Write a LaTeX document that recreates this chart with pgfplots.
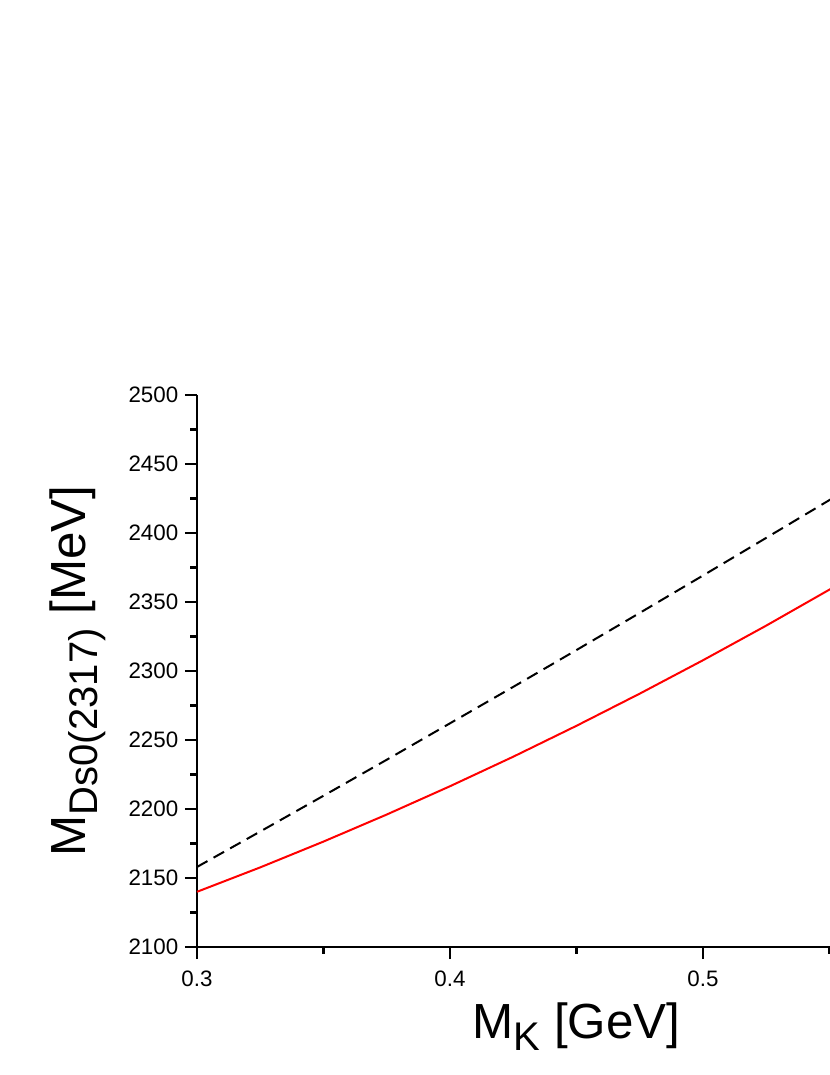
\documentclass[border=0pt]{standalone}
\usepackage{pgfplots}
\pgfplotsset{compat=1.18}
\usepackage{fontspec}
\setmainfont{Liberation Sans}

% curves, M_K in GeV, mass in MeV
\pgfplotstableread{
mk    m
0.300 2140.0
0.325 2157.7
0.350 2176.4
0.375 2196.0
0.400 2216.5
0.425 2237.9
0.450 2260.3
0.475 2283.6
0.500 2307.8
0.525 2332.9
0.550 2359.0
0.575 2386.0
0.600 2413.9
}\redcurve
\pgfplotstableread{
mk    m
0.300 2158.0
0.325 2183.7
0.350 2209.6
0.375 2235.7
0.400 2262.1
0.425 2288.5
0.450 2315.2
0.475 2342.1
0.500 2369.2
0.525 2396.5
0.550 2423.9
0.575 2451.6
0.600 2479.5
}\dashcurve

\begin{document}
\begin{tikzpicture}
  \useasboundingbox (0,0) rectangle (249pt,322.5pt);
  \clip (0,0) rectangle (249pt,322.5pt);
  \begin{axis}[
    at={(59.1pt,38.4pt)}, anchor=south west,
    scale only axis,
    width=227.7pt, height=165.6pt,
    xmin=0.3, xmax=0.6, ymin=2100, ymax=2500,
    axis x line*=bottom, axis y line*=left,
    axis line style={line width=0.7pt},
    xtick={0.3,0.4,0.5,0.6}, minor xtick={0.35,0.45,0.55},
    ytick={2100,2150,...,2500}, minor ytick={2125,2175,...,2475},
    tick align=outside,
    major tick length=3.6pt, minor tick length=2pt,
    every tick/.style={line width=0.7pt, black},
    tick label style={font=\fontsize{6.7}{7.5}\selectfont},
    yticklabel style={xshift=1.5pt},
    /pgf/number format/assume math mode=true,
    /pgf/number format/1000 sep={},
    xticklabel style={/pgf/number format/fixed, /pgf/number format/precision=1, /pgf/number format/fixed zerofill},
    xlabel={M\raisebox{-0.45ex}{\fontsize{12}{12}\selectfont K} [GeV]},
    ylabel={M\raisebox{-0.45ex}{\fontsize{12}{12}\selectfont Ds0(2317)} [MeV]},
    label style={font=\fontsize{14.8}{17}\selectfont},
    xlabel style={yshift=2pt},
    ylabel style={yshift=0pt},
    clip=false,
  ]
    \addplot[black, line width=0.6pt, dash pattern=on 3.6pt off 2.1pt] table[x=mk, y=m] {\dashcurve};
    \addplot[red, line width=0.6pt] table[x=mk, y=m] {\redcurve};
  \end{axis}
\end{tikzpicture}
\end{document}
